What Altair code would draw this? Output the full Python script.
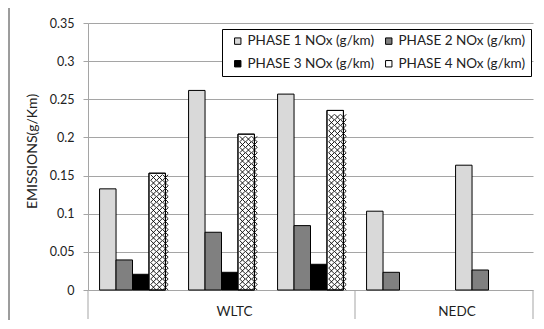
import altair as alt
import pandas as pd
import numpy as np

# ---- data ----
tests = ["T1", "T2", "T3", "T4", "T5"]
cycles = ["WLTC", "WLTC", "WLTC", "NEDC", "NEDC"]
phases = ["PHASE 1 NOx (g/km)", "PHASE 2 NOx (g/km)",
          "PHASE 3 NOx (g/km)", "PHASE 4 NOx (g/km)"]
phase1 = [0.1326, 0.2616, 0.2568, 0.1033, 0.1636]
phase2 = [0.0394, 0.0757, 0.0844, 0.0232, 0.0262]
phase3 = [0.0206, 0.0232, 0.0337, None, None]
phase4 = [0.1531, 0.2043, 0.2354, None, None]
y_ticks = [0, 0.05, 0.1, 0.15, 0.2, 0.25, 0.3, 0.35]
phase_colors = ["#d9d9d9", "#808080", "#000000", "#ffffff"]

# ---- layout ----
W, H = 445, 267
PAD_IN = 0.26
FONT = "Lato"
GRID = "#a5a5a5"
N_HATCH = 3

rows = []
for i, t in enumerate(tests):
    for ph, vals in zip(phases, [phase1, phase2, phase3, phase4]):
        if vals[i] is not None:
            rows.append({"test": t, "phase": ph, "value": vals[i]})
bars_df = pd.DataFrame(rows)

# cross-hatch texture for phase 4 bars (decoration only)
sub_w = W / len(tests) * (1 - PAD_IN) / len(phases)
period = sub_w / N_HATCH
dstep = period * 0.35 / H
slots = [f"{ph}|{c}" for ph in phases for c in range(N_HATCH)]
hrows = []
for i, t in enumerate(tests):
    v = phase4[i]
    if v is None:
        continue
    n = int(np.floor(v / dstep))
    for c in range(N_HATCH):
        for k in range(n):
            hrows.append({"test": t, "slot": f"{phases[3]}|{c}", "hy": (k + 0.5) * dstep})
hatch_df = pd.DataFrame(hrows)
p4_df = bars_df[bars_df["phase"] == phases[3]]

xscale = alt.Scale(domain=tests, paddingInner=PAD_IN, paddingOuter=PAD_IN / 2)
xoff = alt.Scale(domain=phases, paddingInner=0, paddingOuter=0)
xoff_h = alt.Scale(domain=slots, paddingInner=0, paddingOuter=0)
yscale = alt.Scale(domain=[0, 0.35], nice=False)

y_axis = alt.Axis(values=y_ticks, format="~g", title="EMISSIONS(g/Km)",
                  labelOverlap=False, tickCount=8,
                  grid=True, gridColor=GRID, domainColor=GRID, tickColor=GRID,
                  tickSize=5, labelPadding=9, labelFont=FONT, labelFontSize=12.5,
                  labelColor="#222222", titleFont=FONT, titleFontSize=14,
                  titleFontWeight="normal", titleColor="#222222",
                  titlePadding=10, titleY=128)

# legend is laid out column by column, so order the colour domain accordingly
legend_order = [phases[0], phases[2], phases[1], phases[3]]
legend_colors = [phase_colors[0], phase_colors[2], phase_colors[1], phase_colors[3]]

bars = alt.Chart(bars_df).mark_bar(stroke="black", strokeWidth=1).encode(
    x=alt.X("test:N", scale=xscale, axis=None),
    xOffset=alt.XOffset("phase:N", scale=xoff),
    y=alt.Y("value:Q", scale=yscale, axis=y_axis),
    fill=alt.Fill("phase:N", scale=alt.Scale(domain=legend_order, range=legend_colors),
                  legend=alt.Legend(title=None, orient="none", legendX=134, legendY=6,
                                    columns=2, symbolType="square", symbolSize=41,
                                    symbolStrokeColor="black", symbolStrokeWidth=1,
                                    symbolOffset=4, labelOffset=3, columnPadding=3,
                                    rowPadding=8, padding=5, labelFont=FONT,
                                    labelFontSize=13.5, labelColor="#222222",
                                    labelLimit=400, strokeColor="black",
                                    fillColor="white")),
)

hatch = alt.Chart(hatch_df).mark_point(shape="M-1,-1L1,1M-1,1L1,-1", size=period * period,
                                       filled=False, color="black", strokeWidth=0.9,
                                       opacity=1).encode(
    x=alt.X("test:N", scale=xscale, axis=None),
    xOffset=alt.XOffset("slot:N", scale=xoff_h),
    y=alt.Y("hy:Q", scale=yscale, axis=y_axis),
)

outline = alt.Chart(p4_df).mark_bar(fillOpacity=0, stroke="black", strokeWidth=1).encode(
    x=alt.X("test:N", scale=xscale, axis=None),
    xOffset=alt.XOffset("phase:N", scale=xoff),
    y=alt.Y("value:Q", scale=yscale, axis=y_axis),
)

band_layer = alt.layer(bars, hatch, outline).resolve_scale(xOffset="independent")

# cycle group labels and separators
bounds = [0]
names = []
for i, c in enumerate(cycles):
    if i == 0 or c != cycles[i - 1]:
        names.append(c)
        if i > 0:
            bounds.append(i)
bounds.append(len(cycles))
lab_df = pd.DataFrame({"pos": [(bounds[j] + bounds[j + 1]) / 2 for j in range(len(names))],
                       "label": names})
sep_df = pd.DataFrame({"pos": bounds})
qx = alt.Scale(domain=[0, len(tests)], nice=False, zero=False)

labels = alt.Chart(lab_df).mark_text(font=FONT, fontSize=13.5, color="#1f1f1f",
                                     baseline="middle", dx=13).encode(
    x=alt.X("pos:Q", scale=qx, axis=None),
    y=alt.value(H + 22),
    text="label:N",
)
seps = alt.Chart(sep_df).mark_rule(color=GRID, strokeWidth=1).encode(
    x=alt.X("pos:Q", scale=qx, axis=None),
    y=alt.value(H),
    y2=alt.value(H + 29),
)

one = pd.DataFrame({"a": [0]})
frame_left = alt.Chart(one).mark_rule(color="#3a3a3a", strokeWidth=1).encode(
    x=alt.value(-79), y=alt.value(-16), y2=alt.value(H + 40))
frame_top = alt.Chart(one).mark_rule(color="#3a3a3a", strokeWidth=1).encode(
    x=alt.value(-79), x2=alt.value(W + 20), y=alt.value(-16))

chart = alt.layer(band_layer, seps, labels, frame_left, frame_top).resolve_scale(
    x="independent"
).properties(
    width=W, height=H, autosize="none",
    padding={"left": 80, "top": 15, "right": 3, "bottom": 30},
    background="white",
).configure_view(stroke=None)

chart.save("out.html", embed_options={"renderer": "svg", "actions": False})
